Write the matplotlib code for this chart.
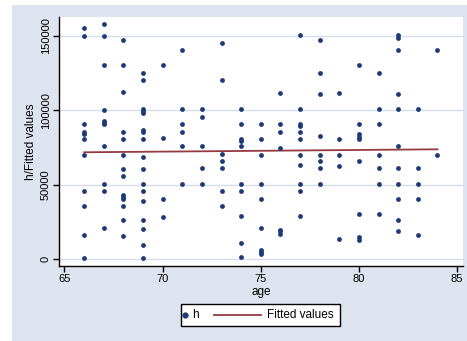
import matplotlib
matplotlib.use("Agg")
import matplotlib.pyplot as plt
from matplotlib.patches import Rectangle
from matplotlib.lines import Line2D

plt.rcParams['font.family'] = ['Liberation Sans', 'DejaVu Sans']

# ---- data ----
h_by_age = {
    66: [155200, 150000, 90500, 85600, 84400, 80400, 70300, 45600, 35500, 15900, 700],
    67: [158300, 150000, 130500, 100200, 93000, 91500, 90500, 75700, 50500, 45600, 20900],
    68: [147300, 130500, 112300, 85600, 80400, 70300, 60600, 55700, 42900, 41600, 40400,
         35500, 26100, 15300],
    69: [125300, 120600, 100600, 99500, 98100, 87100, 85600, 80400, 68700, 60600, 50500,
         45600, 38900, 26100, 20200, 9200, 700],
    70: [130500, 81500, 40700, 28100],
    71: [140400, 100600, 90500, 85600, 75700, 50500],
    72: [100600, 95700, 75700, 60900, 50500],
    73: [145500, 120600, 70700, 65800, 60900, 45600, 35500],
    74: [100600, 90500, 81000, 79500, 75700, 50500, 45600, 28700, 10800, 1100],
    75: [90500, 80400, 70300, 50500, 40700, 20900, 6300, 4700, 3400],
    76: [111400, 90500, 85600, 74800, 19800, 18600, 17100],
    77: [150500, 100600, 91000, 89400, 85600, 80400, 70300, 63100, 50500, 45600, 28700],
    78: [147100, 125300, 110700, 82700, 70300, 65800, 60900, 50500],
    79: [111400, 80400, 70300, 62400, 13700],
    80: [130500, 90500, 83800, 82000, 80400, 65800, 30500, 14600, 13000],
    81: [125300, 100600, 90500, 70300, 60900, 50500, 30500],
    82: [150500, 149000, 140400, 110700, 100600, 75700, 60900, 50500, 40700, 26100, 18600],
    83: [100600, 60900, 50500, 40700, 15900],
    84: [140400, 70300],
}
age = [a for a, vals in h_by_age.items() for _ in vals]
h = [v for vals in h_by_age.values() for v in vals]

fit_age = [66, 84]
fit_vals = [71800, 73800]

x_ticks = [65, 70, 75, 80, 85]
y_ticks = [0, 50000, 100000, 150000]

# ---- figure ----
W, H = 467, 341
fig = plt.figure(figsize=(W / 100, H / 100), dpi=100, facecolor='white')
bg = '#dde3ef'
navy = '#1c3a78'
maroon = '#963a40'
fig.add_artist(Rectangle((12 / W, 0), 1 - 12 / W, 1 - 5 / H,
                         transform=fig.transFigure, facecolor=bg,
                         edgecolor='none', zorder=-10))

ax = fig.add_axes([59 / W, 1 - 266 / H, (463 - 59) / W, (266 - 17) / H])
ax.set_zorder(1)
ax.set_facecolor('white')

ax.set_xlim(64.72, 85.3)
ax.set_ylim(-4700, 162800)

for yt in y_ticks:
    ax.axhline(yt, color='#d6deec', lw=1.0, zorder=1)

ax.scatter(age, h, s=12, color=navy, marker='o', linewidths=0, zorder=3)
ax.plot(fit_age, fit_vals, color=maroon, lw=1.3, zorder=2)

for s in ['top', 'right']:
    ax.spines[s].set_visible(False)
for s in ['left', 'bottom']:
    ax.spines[s].set_color('black')
    ax.spines[s].set_linewidth(1.0)

ax.set_xticks(x_ticks)
ax.set_xticklabels([str(t) for t in x_ticks])
ax.set_yticks(y_ticks)
ax.set_yticklabels([str(t) for t in y_ticks], rotation=90, va='center')
ax.tick_params(axis='both', direction='out', length=4, width=1, colors='black',
               labelsize=8, pad=2)

ax.set_xlabel('age', fontsize=8.5, labelpad=1)
ax.set_ylabel('h/Fitted values', fontsize=8.5, labelpad=3)

# ---- legend box (manual, in pixel-based figure coords) ----
def fx(px):
    return px / W

def fy(py):
    return 1 - py / H

fig.add_artist(Rectangle((fx(181), fy(326)), fx(340) - fx(181), fy(304) - fy(326),
                         transform=fig.transFigure, facecolor='white',
                         edgecolor='black', lw=1.0, zorder=5))
fig.add_artist(Line2D([fx(185)], [fy(315)], marker='o', markersize=3.5,
                      color=navy, linestyle='none', transform=fig.transFigure,
                      zorder=6))
fig.text(fx(192), fy(315.5), 'h', fontsize=8.5, va='center', ha='left', zorder=6)
fig.add_artist(Line2D([fx(214), fx(261)], [fy(315), fy(315)], color=maroon, lw=1.3,
                      transform=fig.transFigure, zorder=6))
fig.text(fx(267), fy(315.5), 'Fitted values', fontsize=8.5, va='center', ha='left',
         zorder=6)

fig.savefig('out.png', dpi=100, facecolor='white')
